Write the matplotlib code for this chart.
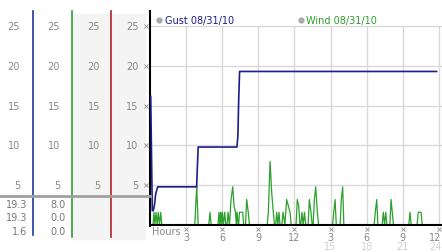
import numpy as np
import matplotlib
matplotlib.use('Agg')
import matplotlib.pyplot as plt
from matplotlib.patches import Rectangle

# y scale shared by all four left columns
y_ticks = [5, 10, 15, 20, 25]

# x axis: hours of the day
x_ticks = [3, 6, 9, 12, 15, 18, 21, 24]
x_labels = ['3', '6', '9', '12', '3', '6', '9', '12']
x_labels2 = ['', '', '', '', '15', '18', '21', '24']

# gust readings (mph)
gust_hours = [0.0, 0.06, 0.19, 0.27, 0.36, 0.47, 0.64, 3.87, 4.0, 7.22, 7.3, 7.36, 7.44, 23.8]
gust_mph = [16.2, 16.2, 1.8, 1.8, 2.4, 3.9, 4.8, 4.8, 9.8, 9.8, 11.2, 15.4, 19.3, 19.3]

# wind readings (mph)
wind_hours = [0.0, 0.25, 0.33, 0.41, 0.50, 0.60, 0.69, 0.79, 0.89, 0.98,
              3.72, 3.82, 3.88, 4.0,
              4.88, 4.98, 5.08,
              5.64, 5.73, 5.8, 5.87, 5.94, 6.0, 6.1, 6.2, 6.3,
              6.4, 6.48, 6.6, 6.73, 6.87, 6.98, 7.1, 7.17, 7.23, 7.32,
              7.36, 7.43, 7.7, 7.78,
              7.93, 8.03, 8.16, 8.26,
              9.73, 9.83, 9.97, 10.11, 10.24, 10.34,
              10.44, 10.52, 10.62, 10.71, 10.8,
              10.95, 11.05, 11.2, 11.35, 11.49, 11.63, 11.73,
              12.13, 12.23, 12.35, 12.45,
              12.52, 12.62, 12.72, 12.83, 12.93,
              13.13, 13.23, 13.37, 13.47,
              13.55, 13.65, 13.76, 13.9, 14.0,
              15.16, 15.26, 15.37, 15.47,
              15.79, 15.89, 16.0, 16.1,
              18.61, 18.71, 18.83, 18.93,
              19.28, 19.38, 19.48, 19.58, 19.68,
              19.92, 20.02, 20.12, 20.22,
              21.49, 21.59, 21.69,
              22.18, 22.28, 22.51, 22.61,
              23.8]
wind_mph = [0, 0, 1.6, 0, 1.6, 0, 1.6, 0, 1.6, 0,
            0, 3.2, 4.8, 0,
            0, 1.6, 0,
            0, 1.6, 0, 1.6, 0, 1.6, 0, 1.6, 0,
            0, 1.6, 0, 3.2, 4.8, 2.4, 1.6, 0, 1.6, 0,
            0, 1.6, 1.6, 0,
            0, 3.2, 1.6, 0,
            0, 1.6, 8.0, 4.0, 1.6, 0,
            0, 1.6, 0, 1.6, 0,
            0, 1.6, 0, 3.2, 2.4, 1.6, 0,
            0, 3.2, 2.4, 0,
            0, 1.6, 0, 1.6, 0,
            0, 3.2, 1.6, 0,
            0, 3.2, 4.8, 1.6, 0,
            0, 1.6, 3.2, 0,
            0, 3.2, 4.8, 0,
            0, 1.6, 3.2, 0,
            0, 1.6, 0, 1.6, 0,
            0, 3.2, 1.6, 0,
            0, 1.6, 0,
            0, 1.6, 1.6, 0,
            0]

# summary table: max / current / min
gust_stats = ['19.3', '19.3', '1.6']
wind_stats = ['8.0', '0.0', '0.0']

gust_color = '#1c1c8e'
wind_color = '#2ca02c'
label_gray = '#888888'
grid_gray = '#d9d9d9'

W, H = 442, 253
fig = plt.figure(figsize=(W / 100, H / 100), dpi=100)
fig.patch.set_facecolor('white')

# main plot
ax = fig.add_axes([150 / W, 1 - 227 / H, 292 / W, 215 / H])
ax.set_xlim(0, 24.25)
ax.set_ylim(-0.125, 26.9)
for s in ['top', 'right', 'bottom']:
    ax.spines[s].set_visible(False)
ax.spines['left'].set_color('black')
ax.spines['left'].set_linewidth(1.5)
ax.set_xticks([])
ax.set_yticks([])

for v in y_ticks:
    ax.axhline(v, color=grid_gray, lw=1, zorder=0)
ax.vlines(x_ticks, 0, 25, color=grid_gray, lw=1, zorder=0)

ax.plot(wind_hours, wind_mph, color=wind_color, lw=0.9, zorder=2)
ax.axhline(0, color='black', lw=1.5, zorder=3)
ax.plot(gust_hours, gust_mph, color=gust_color, lw=1.2, zorder=4)

# legend
ax.plot([0.031], [0.96], 'o', ms=3.5, color='#aaaaaa', transform=ax.transAxes, clip_on=False)
ax.text(0.051, 0.96, 'Gust 08/31/10', color=gust_color, fontsize=7, va='center', ha='left',
        transform=ax.transAxes)
ax.plot([0.517], [0.96], 'o', ms=3.5, color='#aaaaaa', transform=ax.transAxes, clip_on=False)
ax.text(0.534, 0.96, 'Wind 08/31/10', color=wind_color, fontsize=7, va='center', ha='left',
        transform=ax.transAxes)

# x tick labels
xt = ax.get_xaxis_transform()
ax.plot(x_ticks, [-0.013] * len(x_ticks), 'x', ms=2.2, mew=0.7, color='#999999',
        transform=xt, clip_on=False)
for i, (h, lab, lab2) in enumerate(zip(x_ticks, x_labels, x_labels2)):
    ha = 'center'
    if i == len(x_ticks) - 1:
        # last label sits against the right edge
        h, ha = 24.18, 'right'
    ax.text(h, -0.052, lab, color=label_gray, fontsize=7, ha=ha, va='center', transform=xt)
    ax.text(h, -0.095, lab2, color='#d0d0d0', fontsize=7, ha=ha, va='center', transform=xt)
ax.text(0.17, -0.024, 'Hours', color=label_gray, fontsize=7, ha='left', va='center', transform=xt)

# left panel with the four scales
axl = fig.add_axes([0, 1 - 227 / H, 150 / W, 215 / H], sharey=ax)
axl.set_xlim(0, 150)
axl.axis('off')
lt = axl.get_xaxis_transform()
axl.add_patch(Rectangle((73, -0.06), 72, 1.046, transform=lt, color='#f4f4f4',
                        zorder=0, clip_on=False))

for x in [20, 60, 100, 138.5]:
    for v in y_ticks:
        axl.text(x, v, str(v), color=label_gray, fontsize=7, ha='right', va='center')
axl.plot([146] * len(y_ticks), y_ticks, 'x', ms=2.2, mew=0.7, color='#999999', clip_on=False)

axl.axvline(33, ymin=-0.04, ymax=1, color='#1c3c9c', lw=1.2, clip_on=False)
axl.axvline(72.3, ymin=-0.05, ymax=1, color='#2ca02c', lw=1.2, clip_on=False)
axl.axvline(111, ymin=-0.05, ymax=1, color='#b22222', lw=1.2, clip_on=False)

axl.plot([0, 150], [0.141, 0.141], transform=lt, color='#a0a0a0', lw=2, clip_on=False)

for yy, g, w in zip([0.102, 0.042, -0.023], gust_stats, wind_stats):
    axl.text(27, yy, g, transform=lt, color='#777777', fontsize=7, ha='right', va='center')
    axl.text(66, yy, w, transform=lt, color='#777777', fontsize=7, ha='right', va='center')

fig.savefig('out.png', dpi=100)
